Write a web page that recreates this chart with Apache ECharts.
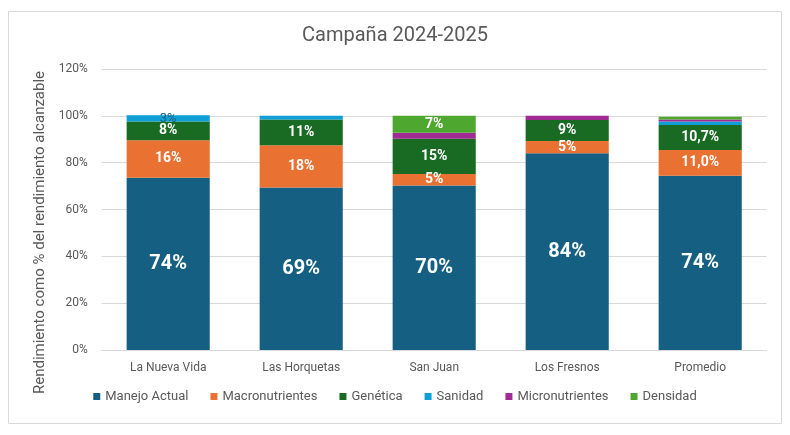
<!DOCTYPE html>
<html>
<head>
<meta charset="utf-8">
<script src="https://cdn.jsdelivr.net/npm/echarts@6/dist/echarts.min.js"></script>
<style>
html,body{margin:0;padding:0;background:#fff;}
#c{width:790px;height:435px;}
</style>
</head>
<body>
<div id="c"></div>
<script>
var categories = ['La Nueva Vida', 'Las Horquetas', 'San Juan', 'Los Fresnos', 'Promedio'];
var manejoActual = [73.6, 69.4, 70.2, 84.0, 74.4];
var macronutrientes = [16.0, 18.0, 5.0, 5.3, 11.0];
var genetica = [8.0, 11.0, 15.0, 8.9, 10.7];
var sanidad = [2.6, 1.6, 0, 0, 1.5];
var micronutrientes = [0, 0, 2.6, 1.8, 0.8];
var densidad = [0, 0, 7.2, 0, 1.2];
var yTicks = [0, 20, 40, 60, 80, 100, 120];

// which data labels are visible (as in the reference)
var showManejo = [true, true, true, true, true];
var showMacro = [true, true, true, true, true];
var showGenetica = [true, true, true, true, true];
var showSanidad = [true, false, false, false, false];
var showMicro = [false, false, false, false, false];
var showDensidad = [false, false, true, false, false];

var colors = ['#156082', '#E97132', '#196B24', '#0F9ED5', '#A02B93', '#4EA72E'];
var FONT = 'Roboto, "Liberation Sans", sans-serif';

function fmt(p) {
  if (p.name === 'Promedio' && p.seriesName !== 'Manejo Actual') {
    return p.value.toFixed(1).replace('.', ',') + '%';
  }
  return Math.round(p.value) + '%';
}

function mk(name, vals, shows, labelStyle) {
  return {
    name: name,
    type: 'bar',
    stack: 'total',
    barWidth: '62.5%',
    data: vals.map(function (v, i) {
      return { value: v, label: { show: shows[i] } };
    }),
    label: Object.assign({
      position: 'inside',
      formatter: fmt,
      color: '#fff',
      fontWeight: 'bold',
      fontSize: 14,
      fontFamily: FONT
    }, labelStyle || {}),
    emphasis: { disabled: true }
  };
}

var chart = echarts.init(document.getElementById('c'), null, { renderer: 'canvas' });
chart.setOption({
  animation: false,
  color: colors,
  textStyle: { fontFamily: FONT },
  graphic: [{
    type: 'rect',
    shape: { x: 8.5, y: 11.5, width: 773, height: 412 },
    style: { fill: 'none', stroke: '#d9d9d9', lineWidth: 1 },
    silent: true,
    z: -10
  }],
  title: {
    text: 'Campaña 2024-2025',
    left: 'center',
    top: 21,
    textStyle: { color: '#595959', fontSize: 20, fontWeight: 'normal', fontFamily: FONT }
  },
  legend: {
    bottom: 27,
    left: 'center',
    icon: 'rect',
    itemWidth: 7,
    itemHeight: 7,
    itemGap: 22,
    textStyle: { color: '#595959', fontSize: 13, fontFamily: FONT },
    data: ['Manejo Actual', 'Macronutrientes', 'Genética', 'Sanidad', 'Micronutrientes', 'Densidad']
  },
  grid: { left: 101.7, right: 23.3, top: 69, bottom: 85, containLabel: false },
  xAxis: {
    type: 'category',
    data: categories,
    axisLine: { lineStyle: { color: '#d9d9d9' } },
    axisTick: { show: false },
    axisLabel: { color: '#595959', fontSize: 12, margin: 12, fontFamily: FONT }
  },
  yAxis: {
    type: 'value',
    min: yTicks[0],
    max: yTicks[yTicks.length - 1],
    interval: 20,
    name: 'Rendimiento como % del rendimiento alcanzable',
    nameLocation: 'middle',
    nameGap: 52,
    nameTextStyle: { color: '#595959', fontSize: 15, fontFamily: FONT, padding: [0, 46, 0, 0] },
    axisLabel: { formatter: '{value}%', color: '#595959', fontSize: 12, margin: 14, fontFamily: FONT },
    splitLine: { lineStyle: { color: '#d9d9d9' } },
    axisLine: { show: false },
    axisTick: { show: false }
  },
  series: [
    mk('Manejo Actual', manejoActual, showManejo, { fontSize: 20 }),
    mk('Macronutrientes', macronutrientes, showMacro),
    mk('Genética', genetica, showGenetica),
    mk('Sanidad', sanidad, showSanidad, { color: '#156082', fontWeight: 'normal', fontSize: 13 }),
    mk('Micronutrientes', micronutrientes, showMicro),
    mk('Densidad', densidad, showDensidad)
  ]
});
</script>
</body>
</html>
